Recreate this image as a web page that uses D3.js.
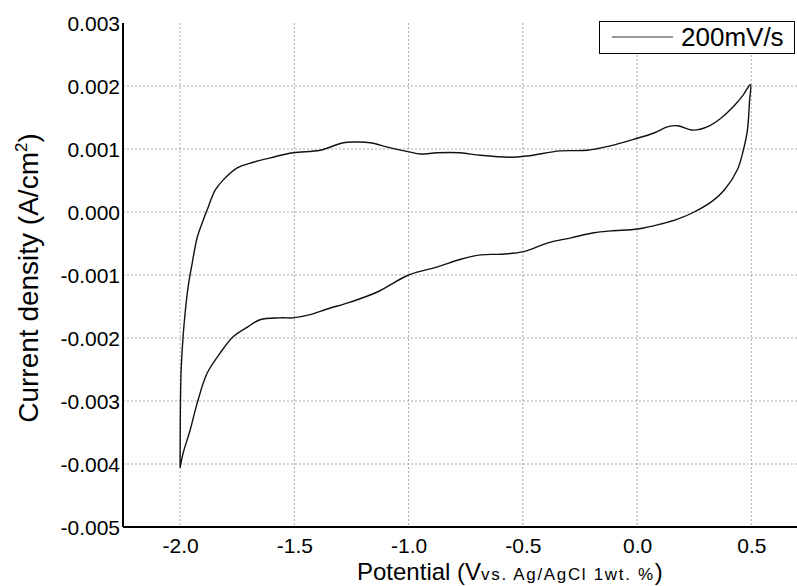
<!DOCTYPE html>
<html>
<head>
<meta charset="utf-8">
<script src="https://cdn.jsdelivr.net/npm/d3@7"></script>
<style>
  body { margin: 0; background: #fff; }
  svg text { font-family: Arial, "Liberation Sans", sans-serif; fill: #000; }
</style>
</head>
<body>
<svg id="chart"></svg>
<script>
// anodic sweep (-2.0 V -> 0.5 V)
const forwardPotential = [-2.000, -1.996, -1.987, -1.978, -1.965, -1.947, -1.925, -1.899, -1.882, -1.846,
  -1.811, -1.750, -1.680, -1.605, -1.505, -1.387, -1.286, -1.225, -1.168, -1.093,
  -0.993, -0.949, -0.875, -0.774, -0.686, -0.555, -0.480, -0.336, -0.218, -0.117,
  0.000, 0.071, 0.132, 0.176, 0.246, 0.307, 0.364, 0.421, 0.465, 0.496];
const forwardCurrent = [-0.00405, -0.00256, -0.00198, -0.00160, -0.00119, -0.00081, -0.00040, -0.00013, 0.00003, 0.00035,
  0.00051, 0.00070, 0.00079, 0.00086, 0.00094, 0.00098, 0.00110, 0.00111, 0.00110, 0.00103,
  0.00095, 0.00092, 0.00094, 0.00094, 0.00090, 0.00087, 0.00089, 0.00097, 0.00098, 0.00105,
  0.00117, 0.00125, 0.00135, 0.00137, 0.00130, 0.00135, 0.00148, 0.00167, 0.00186, 0.00202];

// cathodic sweep (0.5 V -> -2.0 V)
const reversePotential = [0.492, 0.483, 0.465, 0.439, 0.382, 0.325, 0.250, 0.180, 0.105, 0.004,
  -0.114, -0.189, -0.289, -0.390, -0.496, -0.597, -0.684, -0.772, -0.873, -1.000,
  -1.137, -1.255, -1.356, -1.431, -1.505, -1.562, -1.650, -1.707, -1.768, -1.825,
  -1.882, -1.925, -1.956, -1.987, -2.000];
const reverseCurrent = [0.00175, 0.00130, 0.00098, 0.00067, 0.00035, 0.00016, 0.00000, -0.00011, -0.00019, -0.00027,
  -0.00030, -0.00033, -0.00041, -0.00049, -0.00063, -0.00067, -0.00068, -0.00075, -0.00087, -0.00100,
  -0.00127, -0.00143, -0.00154, -0.00163, -0.00168, -0.00168, -0.00171, -0.00183, -0.00198, -0.00224,
  -0.00256, -0.00303, -0.00346, -0.00383, -0.00406];

const xTicks = [-2.0, -1.5, -1.0, -0.5, 0.0, 0.5];
const yTicks = [-0.005, -0.004, -0.003, -0.002, -0.001, 0.000, 0.001, 0.002, 0.003];
const seriesName = "200mV/s";

const width = 797, height = 586;
const plot = { left: 123, right: 797, top: 23, bottom: 527 };

const svg = d3.select("#chart").attr("width", width).attr("height", height);

const x = d3.scaleLinear().domain([-2.25, 0.70]).range([plot.left, plot.right]);
const y = d3.scaleLinear().domain([-0.005, 0.003]).range([plot.bottom, plot.top]);

// plain hyphen instead of unicode minus, like the original
const fmt = p => d => d3.format(p)(d).replace("\u2212", "-");

// grid
svg.append("g")
  .selectAll("line")
  .data(xTicks)
  .join("line")
  .attr("x1", d => x(d)).attr("x2", d => x(d))
  .attr("y1", plot.top).attr("y2", plot.bottom)
  .attr("stroke", "#aaa").attr("stroke-width", 1).attr("stroke-dasharray", "2,2");

svg.append("g")
  .selectAll("line")
  .data(yTicks.filter(d => d > -0.005 && d < 0.003))
  .join("line")
  .attr("x1", plot.left).attr("x2", plot.right)
  .attr("y1", d => y(d)).attr("y2", d => y(d))
  .attr("stroke", "#aaa").attr("stroke-width", 1).attr("stroke-dasharray", "2,2");

// axes
const xAxis = d3.axisBottom(x).tickValues(xTicks).tickSize(0).tickPadding(11)
  .tickFormat(fmt(".1f"));
const yAxis = d3.axisLeft(y).tickValues(yTicks).tickSize(0).tickPadding(3)
  .tickFormat(fmt(".3f"));

const xAxisG = svg.append("g")
  .attr("transform", `translate(0,${plot.bottom})`)
  .call(xAxis);
const yAxisG = svg.append("g")
  .attr("transform", `translate(${plot.left},0)`)
  .call(yAxis);

[xAxisG, yAxisG].forEach(g => {
  g.select(".domain").attr("stroke", "#000").attr("stroke-width", 2);
  g.selectAll("text").attr("font-size", 21).attr("font-family", "Arial, 'Liberation Sans', sans-serif")
    .attr("fill", "#000");
});
xAxisG.select(".domain").attr("d", `M${plot.left},0H${plot.right}`);
yAxisG.select(".domain").attr("d", `M0,${plot.top}V${plot.bottom}`);
yAxisG.selectAll("text").attr("dy", "0.36em");
xAxisG.selectAll("text").attr("dy", "0.71em");

// CV loop
const points = forwardPotential.map((v, i) => [v, forwardCurrent[i]])
  .concat(reversePotential.map((v, i) => [v, reverseCurrent[i]]));

const line = d3.line()
  .x(d => x(d[0]))
  .y(d => y(d[1]))
  .curve(d3.curveCatmullRom.alpha(0.5));

svg.append("path")
  .datum(points)
  .attr("fill", "none")
  .attr("stroke", "#111")
  .attr("stroke-width", 1.4)
  .attr("d", line);

// y title
svg.append("text")
  .attr("transform", "translate(38,278) rotate(-90)")
  .attr("text-anchor", "middle")
  .attr("font-size", 28)
  .html('Current density (A/cm<tspan dy="-11" font-size="17">2</tspan><tspan dy="11">)</tspan>');

// x title
svg.append("text")
  .attr("x", 357)
  .attr("y", 580)
  .attr("font-size", 24)
  .html('Potential (V<tspan font-size="17" textLength="172" lengthAdjust="spacing">vs. Ag/AgCl 1wt. %</tspan><tspan>)</tspan>');

// legend
const legend = svg.append("g");
legend.append("rect")
  .attr("x", 599.5).attr("y", 21.5).attr("width", 195).attr("height", 32)
  .attr("fill", "#fff").attr("stroke", "#000").attr("stroke-width", 1);
legend.append("line")
  .attr("x1", 612).attr("x2", 673).attr("y1", 37).attr("y2", 37)
  .attr("stroke", "#333").attr("stroke-width", 1.2);
legend.append("text")
  .attr("x", 681).attr("y", 46)
  .attr("font-size", 26)
  .text(seriesName);
</script>
</body>
</html>
